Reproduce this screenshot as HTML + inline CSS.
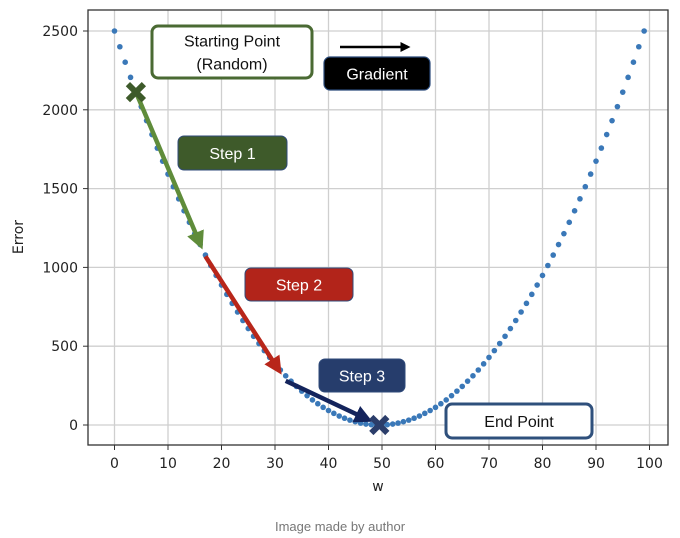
<!DOCTYPE html>
<html><head><meta charset="utf-8"><style>
html,body{margin:0;padding:0;background:#fff;width:680px;height:538px;overflow:hidden}
svg text{font-family:"DejaVu Sans","Liberation Sans",sans-serif}
</style></head><body>
<svg id="chart" width="680" height="538" xmlns="http://www.w3.org/2000/svg">
<g id="grid"></g>
<g id="dots"></g>
<rect x="88" y="10" width="580" height="435" fill="none" stroke="#333" stroke-width="1.3"/>
<g id="ticks"></g>
<text x="23" y="237" font-size="14" fill="#222" text-anchor="middle" transform="rotate(-90 23 237)">Error</text>
<text x="378" y="491" font-size="14" fill="#222" text-anchor="middle">w</text>
<g id="ann"></g>
<text x="340" y="531" font-size="13" fill="#777" text-anchor="middle" style="font-family:'Liberation Sans',sans-serif">Image made by author</text>
</svg>
<script>
const xTicks=[0,10,20,30,40,50,60,70,80,90,100];
const yTicks=[0,500,1000,1500,2000,2500];
const wValues=[];for(let i=0;i<100;i++)wValues.push(i);
const halfErrors=[2500,2400,2302,2206,2112,2020,1931,1843,1757,1674,1592,1512,1435,1359,1286,1214,1145,1078,1012,949,888,829,772,717,663,612,563,517,472,429,388,349,312,278,245,215,186,159,135,112,92,74,57,43,31,21,12,6,2,0];
const errorValues=halfErrors.concat(halfErrors.slice().reverse());
const stepW=[4,17,32,49.5];
const stepE=[2112,1070,280,0];
const NS="http://www.w3.org/2000/svg";
function X(w){return 114.5+w*5.35;}
function Y(e){return 425-e*0.1576;}
function mk(tag,attrs,parent){const el=document.createElementNS(NS,tag);for(const k in attrs)el.setAttribute(k,attrs[k]);parent.appendChild(el);return el;}
const grid=document.getElementById('grid'),ticks=document.getElementById('ticks'),dots=document.getElementById('dots'),ann=document.getElementById('ann');
xTicks.forEach(t=>{
 const g=mk('line',{x1:X(t),x2:X(t),y1:10,y2:445,stroke:'#cfcfcf','stroke-width':1.3},grid);
 
 
 const tk=mk('line',{x1:X(t),x2:X(t),y1:445,y2:450,stroke:'#333'},ticks);
 
 
 const tx=mk('text',{x:X(t),y:468,'font-size':14,fill:'#222','text-anchor':'middle'},ticks);tx.textContent=t;
 
 
});
yTicks.forEach(t=>{
 const g=mk('line',{x1:88,x2:668,y1:Y(t),y2:Y(t),stroke:'#cfcfcf','stroke-width':1.3},grid);
 
 
 const tk=mk('line',{x1:83,x2:88,y1:Y(t),y2:Y(t),stroke:'#333'},ticks);
 
 
 const tx=mk('text',{x:78,y:Y(t)+5,'font-size':14,fill:'#222','text-anchor':'end'},ticks);tx.textContent=t;
 
 
});
wValues.forEach((w,i)=>{
 const c=mk('circle',{cx:X(w),cy:Y(errorValues[i]),r:2.8,fill:'#3a78b8'},dots);
 
 
});
// arrows
const defs=mk('defs',{},ann);
[['g','#5f8c3a'],['r','#b8261a'],['n','#14245c']].forEach(([id,col])=>{
 const m=mk('marker',{id:'ah'+id,markerWidth:4,markerHeight:4,refX:3,refY:2,orient:'auto',markerUnits:'strokeWidth'},defs);
 mk('path',{d:'M0,0 L4,2 L0,4 z',fill:col},m);
});
const cols=['#5f8c3a','#b8261a','#14245c'],ids=['g','r','n'],names=['step-1-arrow','step-2-arrow','step-3-arrow'];
for(let i=0;i<3;i++){
 const x1=X(stepW[i]),y1=Y(stepE[i]),x2=X(stepW[i+1]),y2=Y(stepE[i+1]);
 const dx=x2-x1,dy=y2-y1,L=Math.hypot(dx,dy);
 const a=mk('line',{x1:x1,y1:y1,x2:x2-dx/L*12,y2:y2-dy/L*12,stroke:cols[i],'stroke-width':4.5,'marker-end':'url(#ah'+ids[i]+')'},ann);
 
 
}
function cross(w,e,col,name){
 const x=X(w),y=Y(e),s=8;
 const p=mk('path',{d:`M${x-s},${y-s}L${x+s},${y+s}M${x+s},${y-s}L${x-s},${y+s}`,stroke:col,'stroke-width':6},ann);
 
 
}
cross(stepW[0],stepE[0],'#3d5a2a','start-marker');
cross(stepW[3],stepE[3],'#2b3d6a','end-marker');
function box(x,y,w,h,fill,stroke,sw,lines,tcol,name){
 const g=mk('g',{},ann);
 
 
 mk('rect',{x:x,y:y,width:w,height:h,rx:6,fill:fill,stroke:stroke,'stroke-width':sw},g);
 lines.forEach((t,i)=>{const tx=mk('text',{x:x+w/2,y:y+h/2+6+(i-(lines.length-1)/2)*23,'font-size':16,fill:tcol,'text-anchor':'middle',style:"font-family:'Liberation Sans',sans-serif"},g);tx.textContent=t;});
}
box(152,26,160,52,'#fff','#4a6a33',3,['Starting Point','(Random)'],'#111','starting-point-label');
box(324,57,106,33,'#000','#2a4a7a',1.2,['Gradient'],'#fff','gradient-label');
box(178,136,109,34,'#3e5a2a','#2f4a7a',1,['Step 1'],'#fff','step-1-label');
box(245,268,108,33,'#b2241a','#2f4a7a',1,['Step 2'],'#fff','step-2-label');
box(319,359,86,33,'#263d6c','#2f4a7a',1,['Step 3'],'#fff','step-3-label');
box(446,404,146,34,'#fff','#2f507c',3,['End Point'],'#111','end-point-label');
mk('defs',{},ann).innerHTML='<marker id="ahk" markerWidth="4" markerHeight="4" refX="3" refY="2" orient="auto"><path d="M0,0 L4,2 L0,4 z" fill="#000"/></marker>';
const ga=mk('line',{x1:340,y1:47,x2:408,y2:47,stroke:'#000','stroke-width':2.5,'marker-end':'url(#ahk)'},ann);


</script>
</body></html>
